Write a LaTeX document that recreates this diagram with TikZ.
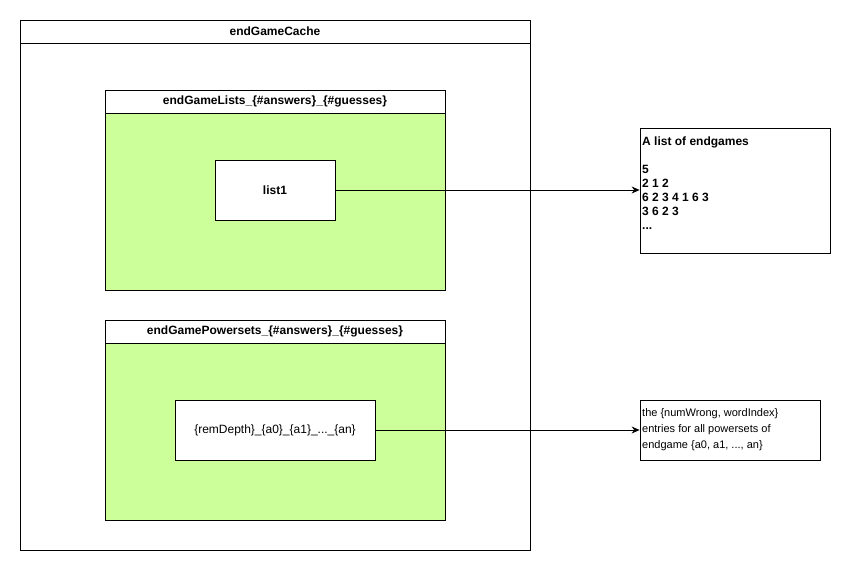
\documentclass[tikz,border=0pt]{standalone}
\usepackage{fontspec}
\setmainfont{Liberation Sans}
\usetikzlibrary{arrows.meta}
\begin{document}
\begin{tikzpicture}[x=1pt,y=-1pt,
  box/.style={draw=black,line width=0.8pt},
  hdr/.style={font=\fontsize{12}{14}\selectfont\bfseries},
  arr/.style={-{Stealth[length=8pt,width=7pt]},line width=0.8pt}]
\useasboundingbox (0,0) rectangle (851,571);
% outer container
\draw[box,fill=white] (20,20) rectangle (530,550);
\draw[box] (20,43) -- (530,43);
\node[hdr] (outerT) at (275,31.5) {endGameCache};
% endGameLists
\draw[box,fill={rgb,255:red,204;green,255;blue,153}] (105,90) rectangle (445,290);
\draw[box,fill=white] (105,90) rectangle (445,113);
\node[hdr] (listsT) at (275,101.5) {endGameLists\_\{\#answers\}\_\{\#guesses\}};
\node[box,fill=white,minimum width=120pt,minimum height=60pt,inner sep=0pt,hdr] (list1) at (275,190) {list1};
% endGamePowersets
\draw[box,fill={rgb,255:red,204;green,255;blue,153}] (105,320) rectangle (445,520);
\draw[box,fill=white] (105,320) rectangle (445,343);
\node[hdr] (powT) at (275,331.5) {endGamePowersets\_\{\#answers\}\_\{\#guesses\}};
\node[box,fill=white,minimum width=200pt,minimum height=60pt,inner sep=0pt,font=\fontsize{12}{14}\selectfont] (rem) at (275,430) {\{remDepth\}\_\{a0\}\_\{a1\}\_...\_\{an\}};
% right boxes
\node[box,fill=white,minimum width=190pt,minimum height=125pt,inner sep=0pt] (lst) at (735,190.5) {};
\node[anchor=north west,inner sep=0pt,align=left,font=\fontsize{12}{14}\selectfont\bfseries] (lstT) at (642,137) {A list of endgames\\[14pt]5\\2 1 2\\6 2 3 4 1 6 3\\3 6 2 3\\...};
\node[box,fill=white,minimum width=180pt,minimum height=60pt,inner sep=0pt] (ent) at (730,430) {};
\node[anchor=west,inner sep=0pt,align=left,font=\fontsize{11}{16}\selectfont] (entT) at (642,430) {the \{numWrong, wordIndex\}\\entries for all powersets of\\endgame \{a0, a1, ..., an\}};
% arrows
\draw[arr] (list1.east) -- (lst.west |- list1.east);
\draw[arr] (rem.east) -- (ent.west);
\end{tikzpicture}
\end{document}
